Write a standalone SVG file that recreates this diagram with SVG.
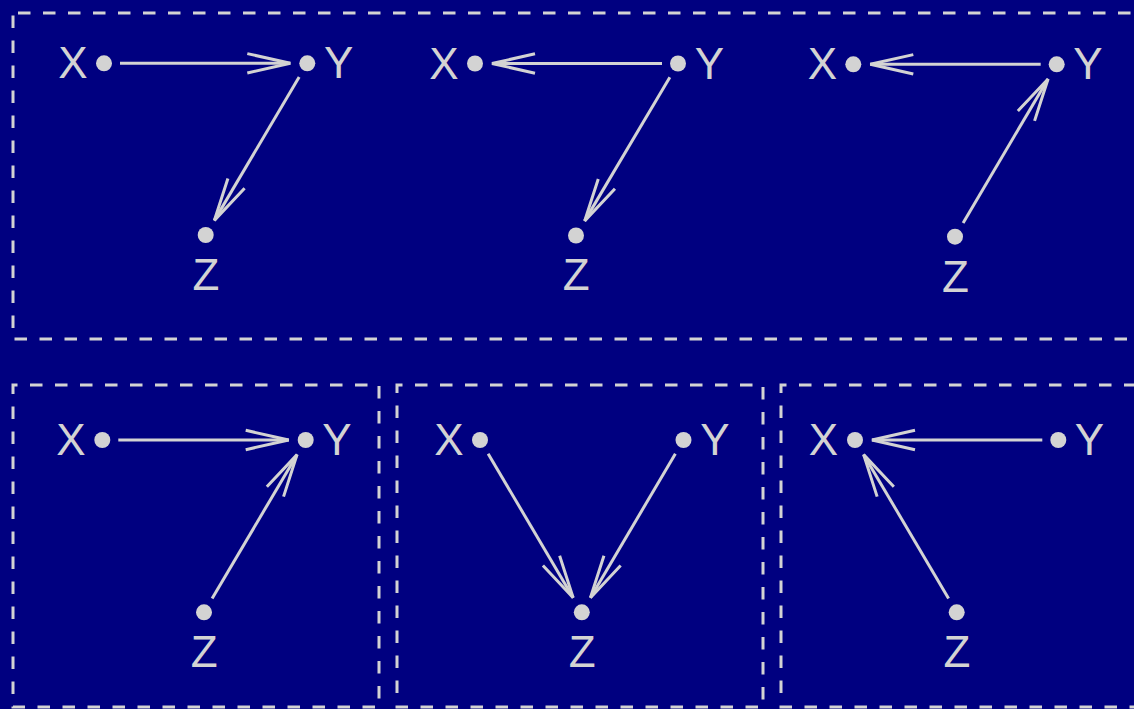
<svg xmlns="http://www.w3.org/2000/svg" width="1134" height="709" viewBox="0 0 1134 709">
<style>
.box{fill:none;stroke:#d3d3d3;stroke-width:3;stroke-dasharray:12.5 12.5}
.e{fill:none;stroke:#d3d3d3;stroke-width:3;marker-end:url(#ah)}
.dot{fill:#d3d3d3}
.lbl{fill:#d3d3d3;font-family:"Liberation Sans",Arial,sans-serif;font-size:44px;text-anchor:middle}
</style>
<defs>
<marker id="ah" markerUnits="userSpaceOnUse" orient="auto" markerWidth="60" markerHeight="30" viewBox="-50 -15 60 30" refX="0" refY="0" overflow="visible">
<path d="M-43,-9.7 L0,0 L-43,9.7" fill="none" stroke="#d3d3d3" stroke-width="3"/>
</marker>
</defs>
<rect width="1134" height="709" fill="#000080"/>
<g id="frames">
<rect class="box" x="13" y="13" width="1134" height="326" style="stroke-dashoffset:20"/>
<rect class="box" x="13" y="385" width="366" height="322" style="stroke-dashoffset:8"/>
<rect class="box" x="397" y="385" width="366" height="322" style="stroke-dashoffset:7"/>
<rect class="box" x="781" y="385" width="366" height="322" style="stroke-dashoffset:7"/>
</g>
<g id="connectors">
<line class="e" x1="120" y1="63.3" x2="290.3" y2="63.3"/>
<line class="e" x1="299.15" y1="77.07" x2="214.36" y2="220.37"/>
<line class="e" x1="662" y1="63.5" x2="492" y2="63.5"/>
<line class="e" x1="669.84" y1="77.26" x2="584.67" y2="220.88"/>
<line class="e" x1="1040.7" y1="64.3" x2="870.3" y2="64.3"/>
<line class="e" x1="963.1" y1="222.9" x2="1048.06" y2="78.94"/>
<line class="e" x1="118.3" y1="440" x2="288.7" y2="440"/>
<line class="e" x1="212.13" y1="598.52" x2="297.06" y2="454.64"/>
<line class="e" x1="488.14" y1="453.77" x2="573.15" y2="597.66"/>
<line class="e" x1="675.37" y1="453.78" x2="590.44" y2="597.66"/>
<line class="e" x1="1042.3" y1="440" x2="872" y2="440"/>
<line class="e" x1="948.57" y1="598.52" x2="863.64" y2="454.64"/>
</g>
<g id="t1-X"><circle class="dot" cx="104" cy="63.3" r="8"/><text class="lbl" x="73" y="78.3">X</text></g>
<g id="t1-Y"><circle class="dot" cx="307.3" cy="63.3" r="8"/><text class="lbl" x="338.8" y="78.3">Y</text></g>
<g id="t1-Z"><circle class="dot" cx="205.7" cy="235" r="8"/><text class="lbl" x="206" y="289.5">Z</text></g>
<g id="t2-X"><circle class="dot" cx="475" cy="63.5" r="8"/><text class="lbl" x="444" y="78.5">X</text></g>
<g id="t2-Y"><circle class="dot" cx="678" cy="63.5" r="8"/><text class="lbl" x="709.5" y="78.5">Y</text></g>
<g id="t2-Z"><circle class="dot" cx="576" cy="235.5" r="8"/><text class="lbl" x="576.3" y="290">Z</text></g>
<g id="t3-X"><circle class="dot" cx="853.3" cy="64.3" r="8"/><text class="lbl" x="822.5" y="79.3">X</text></g>
<g id="t3-Y"><circle class="dot" cx="1056.7" cy="64.3" r="8"/><text class="lbl" x="1088" y="79.3">Y</text></g>
<g id="t3-Z"><circle class="dot" cx="955" cy="236.7" r="8"/><text class="lbl" x="955.5" y="291.5">Z</text></g>
<g id="b1-X"><circle class="dot" cx="102.3" cy="440" r="8"/><text class="lbl" x="71" y="455">X</text></g>
<g id="b1-Y"><circle class="dot" cx="305.7" cy="440" r="8"/><text class="lbl" x="337" y="455">Y</text></g>
<g id="b1-Z"><circle class="dot" cx="204" cy="612.3" r="8"/><text class="lbl" x="204.3" y="666.7">Z</text></g>
<g id="b2-X"><circle class="dot" cx="480" cy="440" r="8"/><text class="lbl" x="449" y="455">X</text></g>
<g id="b2-Y"><circle class="dot" cx="683.5" cy="440" r="8"/><text class="lbl" x="715" y="455">Y</text></g>
<g id="b2-Z"><circle class="dot" cx="581.8" cy="612.3" r="8"/><text class="lbl" x="582.1" y="666.7">Z</text></g>
<g id="b3-X"><circle class="dot" cx="855" cy="440" r="8"/><text class="lbl" x="823.5" y="455">X</text></g>
<g id="b3-Y"><circle class="dot" cx="1058.3" cy="440" r="8"/><text class="lbl" x="1089.5" y="455">Y</text></g>
<g id="b3-Z"><circle class="dot" cx="956.7" cy="612.3" r="8"/><text class="lbl" x="957" y="666.7">Z</text></g>
</svg>
